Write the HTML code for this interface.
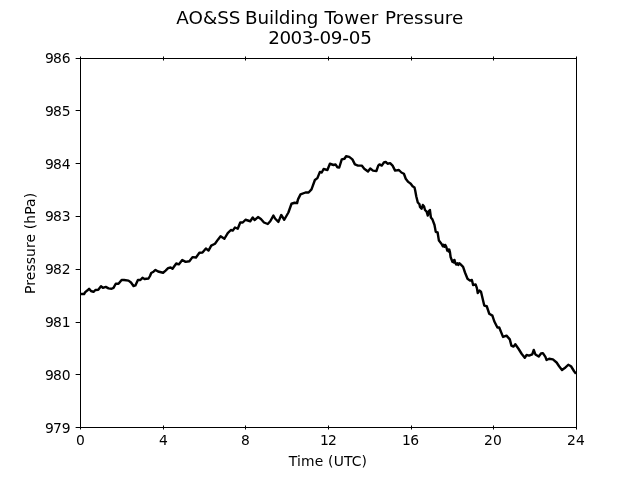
<!DOCTYPE html>
<html><head><meta charset="utf-8"><title>AO&amp;SS Building Tower Pressure</title>
<style>
html,body{margin:0;padding:0;background:#fff;}
body{width:640px;height:480px;overflow:hidden;}
svg{display:block;font-family:"DejaVu Sans","Liberation Sans",sans-serif;}
</style></head><body>
<svg width="640" height="480" viewBox="0 0 640 480">
<rect width="640" height="480" fill="#fff"/>
<g font-size="18.33px" fill="#000" text-anchor="middle">
<text x="176.3" y="23.6" text-anchor="start">AO&amp;SS <tspan dx="-1.25" letter-spacing="-0.16">Building </tspan><tspan dx="0.78" letter-spacing="0.15">Tower </tspan><tspan dx="0.5">Pressure</tspan></text>
<text x="268.3" y="43.9" text-anchor="start" letter-spacing="-0.19"><tspan letter-spacing="-0.5">2003</tspan>-09-05</text>
</g>
<g font-size="13.89px" fill="#000"><text x="76" y="444.8">0</text><text x="159" y="444.8">4</text><text x="241" y="444.8">8</text><text x="320 328" y="444.8">12</text><text x="402 410.2" y="444.8">16</text><text x="484 493" y="444.8">20</text><text x="567 576" y="444.8">24</text><text x="44.9 53 61.78" y="432.50">979</text><text x="44.9 53 61.78" y="379.70">980</text><text x="44.9 53 61.78" y="326.90">981</text><text x="44.9 53 61.78" y="274.10">982</text><text x="44.9 53 61.78" y="221.30">983</text><text x="44.9 53 61.78" y="168.50">984</text><text x="44.9 53 61.78" y="115.70">985</text><text x="44.9 53 61.78" y="62.90">986</text>
<text x="327.85" y="465.6" text-anchor="middle" letter-spacing="0.12"><tspan letter-spacing="0.245">Time</tspan> (UTC)</text>
<text transform="translate(34.6 243.4) rotate(-90)" text-anchor="middle" letter-spacing="0.13">Pressure (hPa)</text>
</g>
<path d="M80.30 294.00 L81.00 293.90 L84.10 294.00 L85.40 291.90 L87.25 290.60 L89.10 288.75 L91.00 291.00 L93.50 291.90 L95.40 290.00 L98.25 289.75 L101.00 286.25 L102.90 287.90 L105.75 286.90 L108.50 288.40 L111.60 288.75 L113.50 287.90 L115.75 283.75 L118.50 283.75 L121.60 280.00 L124.10 280.00 L128.50 280.60 L131.00 282.50 L133.50 286.00 L135.40 285.40 L137.90 280.00 L140.40 280.00 L142.50 277.75 L144.50 279.00 L148.50 278.50 L150.00 276.00 L151.20 273.00 L153.50 271.70 L155.50 269.90 L158.10 271.50 L163.10 272.75 L165.60 270.60 L168.10 268.10 L170.60 267.50 L172.50 268.75 L176.25 263.50 L178.75 264.40 L182.25 260.00 L185.60 261.90 L189.40 261.25 L192.50 257.10 L196.00 257.50 L199.40 252.75 L202.50 252.50 L205.90 248.50 L208.50 250.60 L211.25 245.60 L215.00 243.75 L218.10 239.40 L220.60 236.25 L224.40 238.75 L227.75 233.10 L230.90 230.00 L232.75 230.60 L235.00 227.50 L237.75 228.75 L240.25 222.50 L242.75 222.50 L245.50 219.75 L250.25 221.25 L252.75 217.50 L254.60 220.00 L258.00 217.10 L260.90 219.00 L264.00 222.50 L267.75 224.00 L270.25 221.25 L273.40 215.60 L275.25 218.75 L278.40 221.90 L281.25 215.00 L284.25 219.75 L288.40 212.50 L291.50 203.75 L294.60 202.75 L297.10 203.10 L298.00 199.40 L300.50 194.40 L305.50 192.50 L308.60 192.50 L311.50 189.40 L314.90 180.00 L317.40 178.10 L319.90 171.90 L321.75 172.50 L323.60 169.00 L327.40 170.00 L329.90 163.75 L333.60 165.00 L335.50 164.40 L337.40 167.25 L339.25 167.50 L341.75 159.40 L344.50 158.75 L346.10 156.25 L349.25 156.90 L352.40 159.40 L354.90 164.40 L358.00 165.60 L361.75 165.60 L364.25 168.75 L368.00 171.50 L370.25 168.50 L373.00 170.60 L376.40 171.00 L378.25 165.60 L379.50 164.40 L381.75 165.60 L383.90 162.50 L385.75 161.90 L387.60 163.75 L390.10 163.10 L392.60 165.60 L395.10 170.60 L398.90 170.00 L401.40 172.50 L403.90 173.75 L405.75 178.75 L408.25 181.90 L410.75 183.75 L412.60 186.25 L414.50 187.50 L415.20 190.50 L416.25 196.25 L417.80 202.50 L419.40 204.10 L420.00 206.90 L421.60 208.75 L422.80 205.00 L424.10 206.60 L425.00 210.00 L426.60 211.60 L427.80 215.60 L428.75 211.25 L429.90 210.00 L430.90 217.50 L432.50 219.60 L434.50 225.00 L435.75 231.90 L437.60 232.50 L438.90 240.60 L441.40 243.75 L442.90 246.30 L443.50 244.80 L444.40 246.80 L445.20 244.90 L446.20 246.60 L447.30 250.60 L447.90 249.30 L448.60 251.40 L449.30 249.60 L450.00 252.30 L450.60 257.00 L452.40 261.90 L453.30 260.60 L453.90 262.40 L454.50 260.00 L455.40 263.20 L456.30 264.60 L457.30 263.20 L458.30 265.00 L459.30 263.30 L460.40 264.20 L463.10 266.90 L465.00 272.50 L467.50 278.75 L470.00 280.60 L471.90 280.00 L473.10 285.00 L475.60 284.40 L476.90 288.10 L477.75 293.10 L479.40 290.60 L481.00 291.70 L484.25 305.60 L486.75 306.25 L489.25 313.75 L492.40 315.60 L494.25 321.25 L497.40 327.50 L499.25 327.50 L503.00 336.90 L506.50 335.60 L509.80 339.40 L511.40 345.60 L513.50 346.60 L515.30 344.20 L518.50 348.75 L521.60 353.75 L524.75 357.75 L526.60 355.00 L529.10 355.60 L532.25 354.40 L533.75 350.00 L535.40 354.40 L538.75 356.50 L541.00 353.50 L542.90 353.10 L545.40 356.90 L546.60 360.00 L549.10 358.75 L552.90 359.40 L556.60 362.50 L559.10 366.25 L562.00 370.00 L564.75 368.10 L568.25 364.75 L571.00 366.25 L574.10 371.25 L576.00 373.75" fill="none" stroke="#000" stroke-width="2.4" stroke-linejoin="round" stroke-linecap="butt"/>
<g stroke="#000" stroke-width="1" fill="none"><path d="M80.50 425.50V429.50M80.50 56.50V60.50"/><path d="M163.50 425.50V429.50M163.50 56.50V60.50"/><path d="M245.50 425.50V429.50M245.50 56.50V60.50"/><path d="M328.50 425.50V429.50M328.50 56.50V60.50"/><path d="M411.50 425.50V429.50M411.50 56.50V60.50"/><path d="M493.50 425.50V429.50M493.50 56.50V60.50"/><path d="M576.50 425.50V429.50M576.50 56.50V60.50"/><path d="M75.64 427.50H80.50"/><path d="M75.64 374.50H80.50"/><path d="M75.64 322.50H80.50"/><path d="M75.64 269.50H80.50"/><path d="M75.64 216.50H80.50"/><path d="M75.64 163.50H80.50"/><path d="M75.64 110.50H80.50"/><path d="M75.64 58.50H80.50"/></g>
<rect x="80.5" y="58.5" width="496.0" height="369.0" fill="none" stroke="#000" stroke-width="1"/>
</svg>
</body></html>
